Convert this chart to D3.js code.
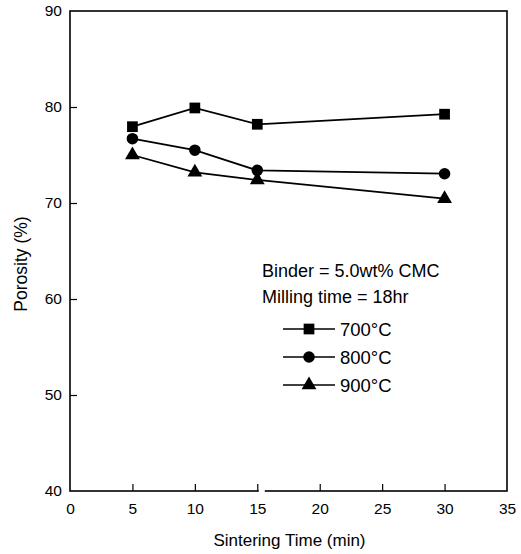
<!DOCTYPE html>
<html>
<head>
<meta charset="utf-8">
<script src="https://cdn.jsdelivr.net/npm/d3@7/dist/d3.min.js"></script>
<style>
  html, body { margin: 0; padding: 0; background: #fff; }
  svg { display: block; font-family: "Liberation Sans", Arial, Helvetica, sans-serif; }
</style>
</head>
<body>
<svg id="chart" width="521" height="554"></svg>
<script>
// Sintering time (min)
const times = [5, 10, 15, 30];
// Porosity (%) per sintering temperature
const porosity700 = [77.95, 79.9, 78.2, 79.25];
const porosity800 = [76.7, 75.5, 73.4, 73.05];
const porosity900 = [75.0, 73.2, 72.4, 70.45];
const seriesNames = ["700°C", "800°C", "900°C"];
const xTicks = [0, 5, 10, 15, 20, 25, 30, 35];
const yTicks = [40, 50, 60, 70, 80, 90];
const noteLines = ["Binder = 5.0wt% CMC", "Milling time = 18hr"];

const svg = d3.select("#chart");
const plotL = 70, plotR = 507, plotT = 11, plotB = 491;

const x = d3.scaleLinear().domain([0, 35]).range([plotL, plotR]);
const y = d3.scaleLinear().domain([40, 90]).range([plotB, plotT]);

const series = [
  { name: seriesNames[0], values: porosity700, symbol: d3.symbolSquare, size: 115 },
  { name: seriesNames[1], values: porosity800, symbol: d3.symbolCircle, size: 105 },
  { name: seriesNames[2], values: porosity900, symbol: d3.symbolTriangle, size: 95 }
];

// Frame
svg.append("rect")
  .attr("x", plotL).attr("y", plotT)
  .attr("width", plotR - plotL).attr("height", plotB - plotT)
  .attr("fill", "none").attr("stroke", "#000").attr("stroke-width", 1.6);

// Bottom axis: inward ticks, labels below
const xAxis = svg.append("g")
  .attr("transform", `translate(0,${plotB})`)
  .call(d3.axisBottom(x).tickValues(xTicks).tickSizeInner(-7).tickSizeOuter(0).tickPadding(12));
xAxis.select(".domain").remove();
xAxis.selectAll(".tick line").attr("stroke-width", 1.2)
  .filter(d => d === 0 || d === 35).remove();
xAxis.selectAll(".tick text").attr("font-size", 15.5).attr("font-family", "Liberation Sans, Arial, sans-serif").attr("fill", "#000");

// small break in the bottom frame line
svg.append("rect").attr("x", x(15) + 1.5).attr("y", plotB - 1.5).attr("width", 6).attr("height", 3).attr("fill", "#fff");

// Left axis
const yAxis = svg.append("g")
  .attr("transform", `translate(${plotL},0)`)
  .call(d3.axisLeft(y).tickValues(yTicks).tickSizeInner(-7).tickSizeOuter(0).tickPadding(8));
yAxis.select(".domain").remove();
yAxis.selectAll(".tick line").attr("stroke-width", 1.2)
  .filter(d => d === 40 || d === 90).remove();
yAxis.selectAll(".tick text").attr("font-size", 15.5).attr("font-family", "Liberation Sans, Arial, sans-serif").attr("fill", "#000");

// Axis titles
svg.append("text")
  .attr("x", (plotL + plotR) / 2 + 1).attr("y", 546)
  .attr("text-anchor", "middle").attr("font-size", 17)
  .text("Sintering Time (min)");
svg.append("text")
  .attr("transform", `translate(27,264) rotate(-90)`)
  .attr("text-anchor", "middle").attr("font-size", 17.5)
  .text("Porosity (%)");

// Series lines and markers
const line = d3.line().x((d, i) => x(times[i])).y(d => y(d));
series.forEach(s => {
  svg.append("path")
    .attr("d", line(s.values))
    .attr("fill", "none").attr("stroke", "#000").attr("stroke-width", 1.8);
  svg.selectAll(null).data(s.values).enter().append("path")
    .attr("transform", (d, i) => `translate(${x(times[i])},${y(d)})`)
    .attr("d", d3.symbol().type(s.symbol).size(s.size))
    .attr("fill", "#000");
});

// Notes
noteLines.forEach((t, i) => {
  svg.append("text")
    .attr("x", 262).attr("y", 277 + i * 26)
    .attr("font-size", 18)
    .text(t);
});

// Legend
const legendY0 = 329, legendStep = 28;
series.forEach((s, i) => {
  const ly = legendY0 + i * legendStep;
  svg.append("line")
    .attr("x1", 283).attr("x2", 335).attr("y1", ly).attr("y2", ly)
    .attr("stroke", "#000").attr("stroke-width", 1.4);
  svg.append("path")
    .attr("transform", `translate(309,${ly})`)
    .attr("d", d3.symbol().type(s.symbol).size(s.size))
    .attr("fill", "#000");
  svg.append("text")
    .attr("x", 340).attr("y", ly + 6.5)
    .attr("font-size", 18.5)
    .text(s.name);
});
</script>
</body>
</html>
